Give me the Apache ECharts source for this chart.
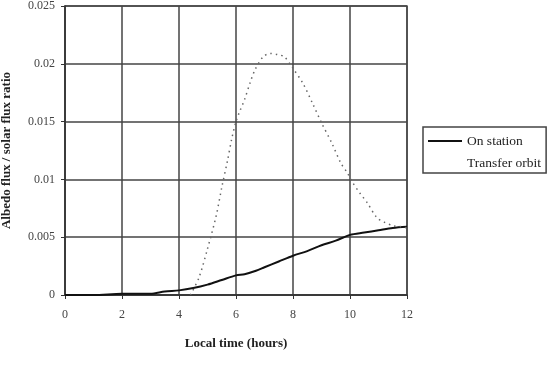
<!DOCTYPE html>
<html><head><meta charset="utf-8">
<script src="https://cdn.jsdelivr.net/npm/echarts@6/dist/echarts.min.js"></script>
<style>html,body{margin:0;padding:0;background:#fff}#c{width:556px;height:375px}</style>
</head><body><div id="c"></div>
<script>
var xTicks = [0, 2, 4, 6, 8, 10, 12];
var yTicks = [0, 0.005, 0.01, 0.015, 0.02, 0.025];
var onStationX = [0, 1, 2, 2.5, 3, 3.5, 4, 4.5, 5, 5.5, 6, 6.3, 6.7, 7, 7.5, 8, 8.5, 9, 9.5, 10, 10.5, 11, 11.5, 12];
var onStationY = [0, 0, 0.0001, 0.0001, 0.0001, 0.0003, 0.0004, 0.0006, 0.0009, 0.0013, 0.0017, 0.0018, 0.0021, 0.0024, 0.0029, 0.0034, 0.0038, 0.0043, 0.0047, 0.0052, 0.0054, 0.0056, 0.0058, 0.0059];
var transferX = [4.4, 4.7, 5.0, 5.3, 5.5, 5.7, 5.85, 6.0, 6.15, 6.3, 6.5, 6.67, 6.95, 7.2, 7.45, 7.7, 8.0, 8.35, 8.7, 9.0, 9.37, 9.68, 9.9, 10.1, 10.35, 10.6, 10.94, 11.2, 11.5, 11.8, 12.0];
var transferY = [0, 0.0015, 0.004, 0.0068, 0.0093, 0.0116, 0.0135, 0.015, 0.016, 0.0169, 0.0184, 0.0195, 0.0206, 0.0209, 0.0208, 0.0206, 0.0196, 0.0183, 0.0165, 0.0149, 0.0131, 0.0114, 0.0106, 0.0097, 0.0088, 0.008, 0.0067, 0.0063, 0.006, 0.0059, 0.0058];

function pairs(xs, ys){ return xs.map(function(x,i){return [x, ys[i]];}); }

var chart = echarts.init(document.getElementById('c'));
var F = 'Liberation Serif';
chart.setOption({
  animation: false,
  textStyle: {fontFamily: F},
  grid: {left: 65, right: 149, top: 6, bottom: 80, show: true, borderColor: '#555', borderWidth: 1.5,
    containLabel: false, outerBoundsMode: 'none'},
  xAxis: {
    type: 'value', min: xTicks[0], max: xTicks[xTicks.length-1], interval: 2,
    name: 'Local time (hours)', nameLocation: 'middle', nameGap: 42,
    nameTextStyle: {fontFamily: F, fontWeight: 'bold', fontSize: 13, color: '#222'},
    axisLine: {show: true, lineStyle: {color: '#333', width: 1.5}},
    axisTick: {show: true, length: 4, lineStyle: {color: '#333'}},
    axisLabel: {fontFamily: F, fontSize: 12, color: '#444', margin: 14},
    splitLine: {show: true, lineStyle: {color: '#444', width: 1.5}}
  },
  yAxis: {
    type: 'value', min: 0, max: 0.025, interval: 0.005,
    name: 'Albedo flux / solar flux ratio', nameLocation: 'middle', nameGap: 52,
    nameTextStyle: {fontFamily: F, fontWeight: 'bold', fontSize: 13, color: '#222'},
    axisLine: {show: true, lineStyle: {color: '#333', width: 1.5}},
    axisTick: {show: true, length: 4, lineStyle: {color: '#333'}},
    axisLabel: {fontFamily: F, fontSize: 12, color: '#444', margin: 10,
      formatter: function(v){ return v === 0 ? '0' : String(+v.toFixed(3)); }},
    splitLine: {show: true, lineStyle: {color: '#444', width: 1.5}}
  },
  legend: {
    orient: 'vertical', left: 423, top: 127, padding: [7, 5, 3, 5],
    borderColor: '#444', borderWidth: 1.5, itemGap: 8,
    itemWidth: 34, itemHeight: 14,
    textStyle: {fontFamily: F, fontSize: 13.5, color: '#222'},
    data: [
      {name: 'On station', icon: 'path://M0,6L34,6L34,8L0,8Z', itemStyle: {color: '#111'}},
      {name: 'Transfer orbit', icon: 'rect', itemStyle: {color: 'rgba(0,0,0,0)'}}
    ]
  },
  series: [
    {name: 'On station', type: 'line', data: pairs(onStationX, onStationY), showSymbol: false, smooth: 0.3,
      lineStyle: {color: '#111', width: 2}, itemStyle: {color: '#111'}},
    {name: 'Transfer orbit', type: 'line', data: pairs(transferX, transferY), showSymbol: false, smooth: 0.3,
      lineStyle: {color: '#666', width: 1.5, type: [1.5, 4]}, itemStyle: {color: '#666'}}
  ]
});
</script></body></html>
